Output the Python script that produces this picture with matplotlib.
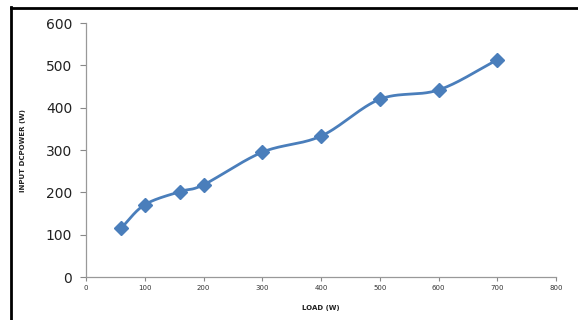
import numpy as np
import matplotlib
matplotlib.use("Agg")
import matplotlib.pyplot as plt
from matplotlib.lines import Line2D

load_w = [60, 100, 160, 200, 300, 400, 500, 600, 700]
input_power = [116, 171, 202, 218, 295, 333, 420, 442, 513]
x_ticks = [0, 100, 200, 300, 400, 500, 600, 700, 800]
y_ticks = [0, 100, 200, 300, 400, 500, 600]

def catmull_rom(x, y, n=30):
    x = np.asarray(x, float); y = np.asarray(y, float)
    px = np.concatenate([[2*x[0]-x[1]], x, [2*x[-1]-x[-2]]])
    py = np.concatenate([[2*y[0]-y[1]], y, [2*y[-1]-y[-2]]])
    xs, ys = [], []
    t = np.linspace(0, 1, n)
    for i in range(1, len(px)-2):
        for P, out in ((px, xs), (py, ys)):
            p0, p1, p2, p3 = P[i-1], P[i], P[i+1], P[i+2]
            out.extend(0.5*((2*p1) + (-p0+p2)*t + (2*p0-5*p1+4*p2-p3)*t**2 + (-p0+3*p1-3*p2+p3)*t**3))
    return np.array(xs), np.array(ys)

fig = plt.figure(figsize=(5.78, 3.2), dpi=100)
ax = fig.add_axes([0.1488, 0.134, 0.962-0.1488, 0.928-0.134])

color = "#4a7ebb"
sx, sy = catmull_rom(load_w, input_power)
ax.plot(sx, sy, color=color, lw=2.0, solid_capstyle="round")
ax.plot(load_w, input_power, linestyle="none", marker="D", markersize=7, color=color)

ax.set_xlim(0, 800)
ax.set_ylim(0, 600)
ax.set_xticks(x_ticks)
ax.set_yticks(y_ticks)
ax.tick_params(axis="x", labelsize=5, colors="#888888", labelcolor="#333333", length=3, direction="out", pad=3)
ax.tick_params(axis="y", labelsize=10, colors="#888888", labelcolor="#222222", length=4, direction="out", pad=6)
for s in ("top", "right"):
    ax.spines[s].set_visible(False)
for s in ("left", "bottom"):
    ax.spines[s].set_color("#999999")
    ax.spines[s].set_linewidth(0.9)

ax.set_xlabel("LOAD (W)", fontsize=5, fontweight="bold", color="#222222", labelpad=10)
ax.set_ylabel("INPUT DCPOWER (W)", fontsize=5, fontweight="bold", color="#222222", labelpad=14)

fig.add_artist(Line2D([11/578, 11/578], [0, 1-7/320], transform=fig.transFigure, color="black", lw=2))
fig.add_artist(Line2D([11/578, 1], [1-8/320, 1-8/320], transform=fig.transFigure, color="black", lw=2))

fig.savefig("out.png", dpi=100)
